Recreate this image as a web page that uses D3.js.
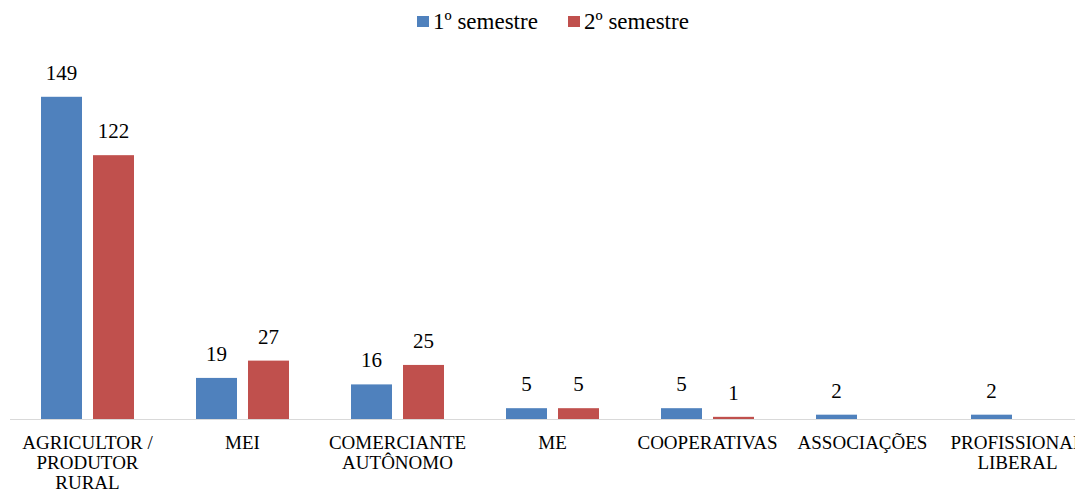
<!DOCTYPE html>
<html>
<head>
<meta charset="utf-8">
<script src="https://cdn.jsdelivr.net/npm/d3@7"></script>
<style>
  body { margin: 0; background: #fff; }
  svg { font-family: "Liberation Serif", "Times New Roman", serif; }
</style>
</head>
<body>
<svg width="1075" height="493"></svg>
<script>
const categories = ["AGRICULTOR / PRODUTOR RURAL", "MEI", "COMERCIANTE AUTÔNOMO", "ME", "COOPERATIVAS", "ASSOCIAÇÕES", "PROFISSIONAL LIBERAL"];
const tickLines = [["AGRICULTOR /", "PRODUTOR", "RURAL"], ["MEI"], ["COMERCIANTE", "AUTÔNOMO"], ["ME"], ["COOPERATIVAS"], ["ASSOCIAÇÕES"], ["PROFISSIONAL", "LIBERAL"]];
const seriesNames = ["1º semestre", "2º semestre"];
const sem1 = [149, 19, 16, 5, 5, 2, 2];
const sem2 = [122, 27, 25, 5, 1, 0, 0];
const colors = ["#4F81BD", "#C0504D"];

const svg = d3.select("svg");
const margin = {left: 10, top: 73, baseline: 419};

const xScale = d3.scaleBand()
  .domain(categories)
  .range([margin.left, margin.left + 155 * categories.length]);

const xInner = d3.scaleBand()
  .domain(seriesNames)
  .range([31, 124])
  .paddingInner(0.2115);

const yScale = d3.scaleLinear()
  .domain([0, 160])
  .range([margin.baseline, margin.top]);

const data = categories.map((c, i) => ({cat: c, values: [sem1[i], sem2[i]]}));

// axis line
svg.append("line")
  .attr("x1", margin.left).attr("x2", 1075)
  .attr("y1", margin.baseline + 0.5).attr("y2", margin.baseline + 0.5)
  .attr("stroke", "#d9d9d9").attr("stroke-width", 1);

const groups = svg.selectAll("g.grp").data(data)
  .enter().append("g")
    .attr("class", "grp")
    .attr("transform", d => `translate(${xScale(d.cat)},0)`);

groups.selectAll("rect")
  .data(d => d.values.map((v, j) => ({v, j})).filter(e => e.v > 0))
  .enter().append("rect")
    .attr("x", e => xInner(seriesNames[e.j]))
    .attr("y", e => yScale(e.v))
    .attr("width", xInner.bandwidth())
    .attr("height", e => yScale(0) - yScale(e.v))
    .attr("fill", e => colors[e.j]);

groups.selectAll("text.val")
  .data(d => d.values.map((v, j) => ({v, j})).filter(e => e.v > 0))
  .enter().append("text")
    .attr("class", "val")
    .attr("x", e => xInner(seriesNames[e.j]) + xInner.bandwidth() / 2)
    .attr("y", e => yScale(e.v) - 17)
    .attr("text-anchor", "middle")
    .attr("font-size", 21)
    .attr("fill", "#000")
    .text(e => e.v);

// category labels
categories.forEach((c, i) => {
  const cx = xScale(c) + xScale.bandwidth() / 2;
  const t = svg.append("text")
    .attr("text-anchor", "middle")
    .attr("font-size", 19)
    .attr("fill", "#000")
    .attr("x", cx)
    .attr("y", 449);
  tickLines[i].forEach((line, k) => {
    t.append("tspan")
      .attr("x", cx)
      .attr("dy", k === 0 ? 0 : 20)
      .text(line);
  });
});

// legend
const legendX = [417, 568];
seriesNames.forEach((s, i) => {
  svg.append("rect")
    .attr("x", legendX[i]).attr("y", 16)
    .attr("width", 12).attr("height", 11)
    .attr("fill", colors[i]);
  svg.append("text")
    .attr("x", legendX[i] + 16).attr("y", 29)
    .attr("font-size", 23)
    .attr("fill", "#000")
    .text(s);
});
</script>
</body>
</html>
